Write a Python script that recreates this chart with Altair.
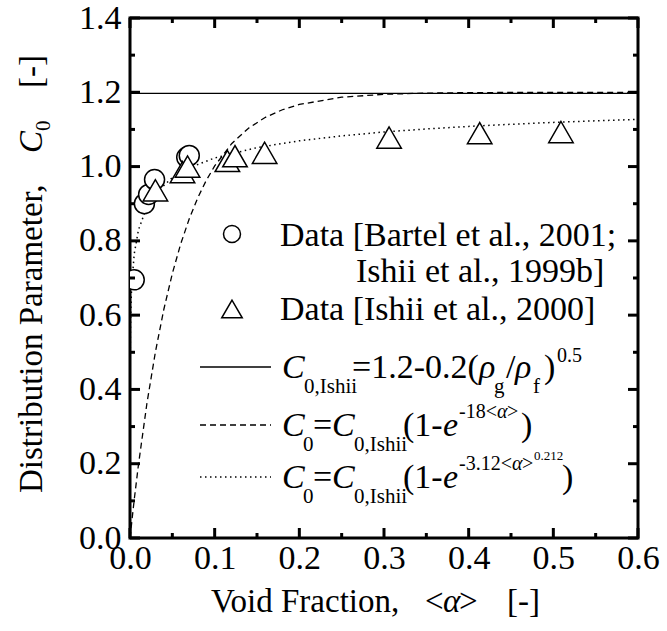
import altair as alt
import pandas as pd

SERIF = "Liberation Serif"

# ---------------- data ----------------
circle_x = [0.005, 0.017, 0.022, 0.029, 0.067, 0.070]
circle_y = [0.695, 0.900, 0.925, 0.965, 1.025, 1.030]

tri_x = [0.030, 0.062, 0.068, 0.115, 0.124, 0.159, 0.306, 0.413, 0.509]
tri_y = [0.936, 0.985, 1.000, 1.015, 1.028, 1.037, 1.078, 1.090, 1.093]

ishii_x = [0.0, 0.6]
ishii_y = [1.197, 1.197]

dash_x = [0.0, 0.005, 0.01, 0.02, 0.03, 0.04, 0.05, 0.06, 0.07, 0.08, 0.09, 0.10,
          0.12, 0.14, 0.16, 0.18, 0.20, 0.25, 0.30, 0.35, 0.40, 0.50, 0.60]
dash_y = [0.0, 0.1033, 0.1976, 0.3627, 0.5008, 0.6159, 0.7121, 0.7925, 0.8596, 0.9157,
          0.9625, 1.0016, 1.0616, 1.1034, 1.1327, 1.1530, 1.1672, 1.1867, 1.1946,
          1.1978, 1.1991, 1.1999, 1.2000]

dot_x = [0.0, 0.0001, 0.0005, 0.001, 0.002, 0.005, 0.01, 0.02, 0.03, 0.05, 0.07, 0.10,
         0.15, 0.20, 0.25, 0.30, 0.35, 0.40, 0.45, 0.50, 0.55, 0.60]
dot_y = [0.0, 0.4292, 0.5562, 0.6167, 0.6796, 0.7650, 0.8296, 0.8924, 0.9278, 0.9703,
         0.9967, 1.0232, 1.0511, 1.0694, 1.0826, 1.0931, 1.1012, 1.1081, 1.1138,
         1.1189, 1.1232, 1.1270]

x_major = [0.0, 0.1, 0.2, 0.3, 0.4, 0.5, 0.6]
x_minor = [0.05, 0.15, 0.25, 0.35, 0.45, 0.55]
y_major = [0.0, 0.2, 0.4, 0.6, 0.8, 1.0, 1.2, 1.4]
y_minor = [0.1, 0.3, 0.5, 0.7, 0.9, 1.1, 1.3]

# ---------------- layout ----------------
W, H = 508, 520
LEFT, TOP = 130, 18

xs = alt.Scale(domain=[0, 0.6], nice=False, zero=False)
ys = alt.Scale(domain=[0, 1.4], nice=False, zero=False)
xaxis = alt.Axis(values=x_major, format=".1f", labelFont=SERIF, labelFontSize=34,
                 labelColor="black", ticks=False, domain=False, grid=False,
                 labelPadding=3, labelFlush=False, labelOverlap=False, title=None)
yaxis = alt.Axis(values=y_major, format=".1f", labelFont=SERIF, labelFontSize=34,
                 labelColor="black", ticks=False, domain=False, grid=False,
                 labelPadding=9, labelFlush=False, labelOverlap=False, title=None)


def X(f):
    return alt.X(f"{f}:Q", scale=xs, axis=xaxis)


def Y(f):
    return alt.Y(f"{f}:Q", scale=ys, axis=yaxis)


df_h = pd.DataFrame({"x": ishii_x, "y": ishii_y})
df_d = pd.DataFrame({"x": dash_x, "y": dash_y})
df_o = pd.DataFrame({"x": dot_x, "y": dot_y})
df_c = pd.DataFrame({"x": circle_x, "y": circle_y})
df_t = pd.DataFrame({"x": tri_x, "y": tri_y})

layers = []
layers.append(alt.Chart(df_h).mark_line(color="black", strokeWidth=1.3).encode(x=X("x"), y=Y("y")))
layers.append(alt.Chart(df_d).mark_line(color="black", strokeWidth=1.3, strokeDash=[6, 4]).encode(x=X("x"), y=Y("y")))
layers.append(alt.Chart(df_o).mark_line(color="black", strokeWidth=1.5, strokeDash=[1.5, 3.5]).encode(x=X("x"), y=Y("y")))
layers.append(alt.Chart(df_c).mark_point(shape="circle", filled=True, fill="white", stroke="black",
                                          strokeWidth=1.5, size=400, opacity=1, clip=True).encode(x=X("x"), y=Y("y")))
layers.append(alt.Chart(df_t).mark_point(shape="triangle-up", filled=True, fill="white", stroke="black",
                                          strokeWidth=1.5, size=600, opacity=1).encode(x=X("x"), y=Y("y")))

# inward ticks on all four sides
dxM = pd.DataFrame({"v": x_major})
dxm = pd.DataFrame({"v": x_minor})
dyM = pd.DataFrame({"v": y_major})
dym = pd.DataFrame({"v": y_minor})
tick = dict(color="black", strokeWidth=3)
for d, L in ((dxM, 10), (dxm, 5)):
    layers.append(alt.Chart(d).mark_rule(**tick).encode(x=X("v"), y=alt.value(H), y2=alt.value(H - L)))
    layers.append(alt.Chart(d).mark_rule(**tick).encode(x=X("v"), y=alt.value(0), y2=alt.value(L)))
for d, L in ((dyM, 10), (dym, 5)):
    layers.append(alt.Chart(d).mark_rule(**tick).encode(y=Y("v"), x=alt.value(0), x2=alt.value(L)))
    layers.append(alt.Chart(d).mark_rule(**tick).encode(y=Y("v"), x=alt.value(W), x2=alt.value(W - L)))

one = pd.DataFrame({"k": [0]})


def txt(s, x, y, size, italic=False, angle=0, align="left"):
    return alt.Chart(one).mark_text(
        text=s, font=SERIF, fontSize=size, fontStyle="italic" if italic else "normal",
        align=align, baseline="alphabetic", angle=angle, color="black"
    ).encode(x=alt.value(x - LEFT), y=alt.value(y - TOP))


def sym(shape, x, y, size):
    return alt.Chart(one).mark_point(shape=shape, filled=True, fill="white", stroke="black",
                                     strokeWidth=1.5, size=size, opacity=1).encode(
        x=alt.value(x - LEFT), y=alt.value(y - TOP))


def seg(y, dash=None, width=1.3):
    kw = dict(color="black", strokeWidth=width)
    if dash:
        kw["strokeDash"] = dash
    return alt.Chart(one).mark_rule(**kw).encode(
        x=alt.value(200 - LEFT), x2=alt.value(271 - LEFT), y=alt.value(y - TOP))


# legend
layers += [
    sym("circle", 232, 234, 289),
    txt("Data [Bartel et al., 2001;", 280, 246, 34),
    txt("Ishii et al., 1999b]", 356, 282, 34),
    sym("triangle-up", 232, 309, 420),
    txt("Data [Ishii et al., 2000]", 280, 320, 34),
    seg(367),
    txt("C", 282, 378, 34, italic=True),
    txt("0,Ishii", 304, 393, 21),
    txt("=1.2-0.2(", 352, 378, 34),
    txt("ρ", 479, 378, 34, italic=True),
    txt("g", 494, 393, 21),
    txt("/", 506, 378, 34),
    txt("ρ", 515, 378, 34, italic=True),
    txt("f", 533, 393, 21),
    txt(")", 544, 378, 34),
    txt("0.5", 557, 362, 20),
    seg(425, dash=[6, 4]),
    txt("C", 282, 436, 34, italic=True),
    txt("0", 303, 451, 21),
    txt("=", 313, 436, 34),
    txt("C", 332, 436, 34, italic=True),
    txt("0,Ishii", 354, 451, 21),
    txt("(1-", 403, 436, 34),
    txt("e", 443, 436, 34, italic=True),
    txt("-18<", 459, 418, 20),
    txt("α", 497, 418, 20, italic=True),
    txt(">", 507, 418, 20),
    txt(")", 521, 436, 34),
    seg(477, dash=[1.5, 3.5], width=1.5),
    txt("C", 282, 488, 34, italic=True),
    txt("0", 303, 503, 21),
    txt("=", 313, 488, 34),
    txt("C", 332, 488, 34, italic=True),
    txt("0,Ishii", 354, 503, 21),
    txt("(1-", 403, 488, 34),
    txt("e", 443, 488, 34, italic=True),
    txt("-3.12<", 459, 470, 20),
    txt("α", 512, 470, 20, italic=True),
    txt(">", 522, 470, 20),
    txt("0.212", 534, 460, 13),
    txt(")", 562, 488, 34),
]

# axis titles
layers += [
    txt("Void Fraction,", 211, 612, 33),
    txt("<", 425, 612, 33),
    txt("α", 443, 612, 33, italic=True),
    txt(">", 459, 612, 33),
    txt("[-]", 507, 612, 33),
    txt("Distribution Parameter,", 42, 493, 33, angle=270),
    txt("C", 42, 153, 33, italic=True, angle=270),
    txt("0", 50, 131, 21, angle=270),
    txt("[-]", 42, 88, 33, angle=270),
]

chart = alt.layer(*layers).properties(
    width=W, height=H,
    autosize=alt.AutoSizeParams(type="none"),
    padding={"left": LEFT, "top": TOP, "right": 667 - LEFT - W, "bottom": 631 - TOP - H},
    background="white",
).configure_view(stroke="black", strokeWidth=3)

chart.save("out.html", embed_options={"renderer": "svg", "actions": False})
